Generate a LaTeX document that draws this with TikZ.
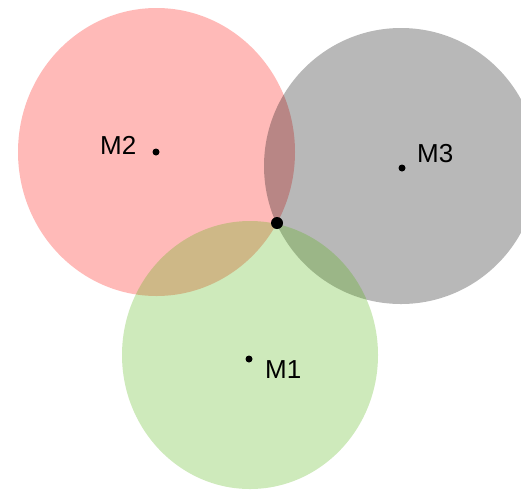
\documentclass[tikz,border=0pt]{standalone}
\usepackage{fontspec}
\setmainfont{Liberation Sans}
\definecolor{redbase}{RGB}{255,8,0}
\definecolor{graybase}{RGB}{0,0,0}
\definecolor{greenbase}{RGB}{80,178,10}
\tikzset{
  disc/.style={fill opacity=0.28, draw=none},
  centre/.style={circle, fill=black, inner sep=0pt, minimum size=7pt},
  meet/.style={circle, fill=black, inner sep=0pt, minimum size=12pt},
  lbl/.style={anchor=base west, inner sep=0pt, font=\fontsize{26}{30}\selectfont}
}
\begin{document}
\begin{tikzpicture}[x=1pt, y=-1pt]
  \useasboundingbox (0,0) rectangle (521,491);
  % the three discs
  \fill[disc, redbase] (156.5,152) ellipse [x radius=138.5, y radius=144];
  \fill[disc, graybase] (401,166) ellipse [x radius=137, y radius=138];
  \fill[disc, greenbase] (250,355) ellipse [x radius=128, y radius=134];
  % centres and their labels
  \node[centre] (m2) at (156,152) {};
  \node[centre] (m3) at (402,168) {};
  \node[centre] (m1) at (249,359) {};
  \node[lbl] (l2) at (100,154) {M2};
  \node[lbl] (l3) at (417,162) {M3};
  \node[lbl] (l1) at (265,378) {M1};
  % common point
  \node[meet] (p) at (277,223) {};
\end{tikzpicture}
\end{document}
